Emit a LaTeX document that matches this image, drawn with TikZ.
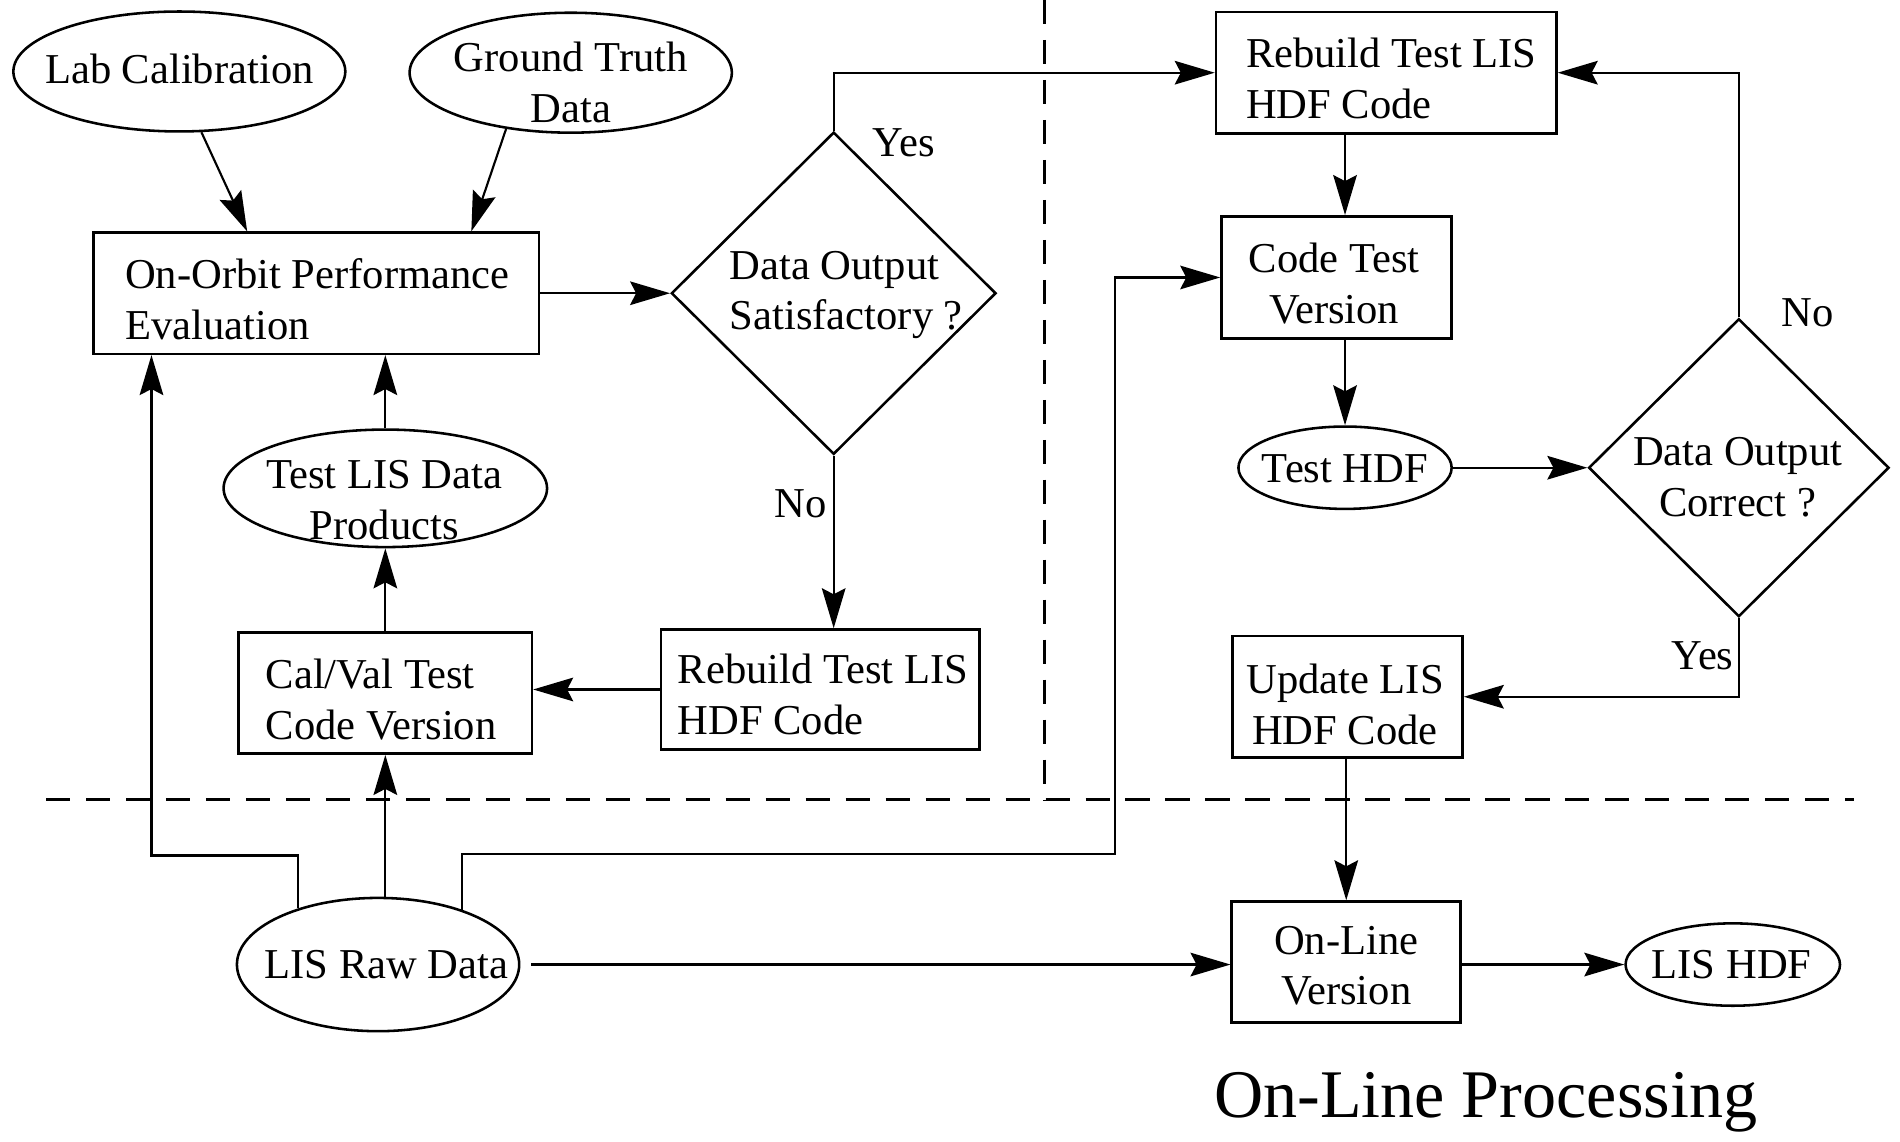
\documentclass[tikz,border=0pt]{standalone}
\usepackage{fontspec}
\setmainfont{Liberation Serif}
\usetikzlibrary{shapes.geometric,arrows.meta,calc}
\begin{document}
\begin{tikzpicture}[x=0.02cm,y=-0.02cm,
  every node/.style={font=\fontsize{20}{23.9}\selectfont, inner sep=0pt},
  box/.style={draw, line width=1.2pt, rectangle},
  ell/.style={draw, line width=1.2pt, ellipse},
  dia/.style={draw, line width=1.2pt, diamond},
  lbl/.style={align=center},
  ltxt/.style={align=left, anchor=west},
  conn/.style={line width=1pt, -{Stealth[length=0.66cm,width=0.39cm,inset=0.1cm]}},
  divider/.style={line width=1.3pt, dash pattern=on 0.4cm off 0.26cm}
]
\useasboundingbox (0,0) rectangle (1568,942);

% shapes
\node[ell, minimum width=5.48cm, minimum height=1.98cm] (lab) at (148,59) {};
\node[ell, minimum width=5.32cm, minimum height=1.98cm] (gt) at (471,60) {};
\node[box, minimum width=7.36cm, minimum height=2cm] (oo) at (261,242) {};
\node[dia, minimum width=5.36cm, minimum height=5.32cm] (d1) at (688,242) {};
\node[box, minimum width=5.62cm, minimum height=2cm] (rb1) at (1144,60) {};
\node[box, minimum width=3.8cm, minimum height=2.02cm] (ct) at (1103,229) {};
\node[ell, minimum width=3.52cm, minimum height=1.36cm] (th) at (1110,386) {};
\node[dia, minimum width=4.96cm, minimum height=4.92cm] (d2) at (1435,386) {};
\node[box, minimum width=3.8cm, minimum height=2cm] (upd) at (1112,575) {};
\node[box, minimum width=3.78cm, minimum height=2cm] (ol) at (1111,794) {};
\node[ell, minimum width=3.54cm, minimum height=1.36cm] (lh) at (1430,796) {};
\node[ell, minimum width=4.66cm, minimum height=2.2cm] (raw) at (312,796) {};
\node[ell, minimum width=5.34cm, minimum height=1.94cm] (tlp) at (318,403) {};
\node[box, minimum width=4.84cm, minimum height=2cm] (cv) at (318,572) {};
\node[box, minimum width=5.26cm, minimum height=1.98cm] (rb2) at (677,569) {};

% texts
\node[lbl] (labT) at (148,57) {Lab Calibration};
\node[lbl] (gtT) at (471,68) {Ground Truth\\Data};
\node[ltxt] (ooT) at (103,247) {On-Orbit Performance\\Evaluation};
\node[ltxt] (d1T) at (602,243.5) {Data Output\\Satisfactory ?};
\node[ltxt] (rb1T) at (1028,65) {Rebuild Test LIS\\HDF Code};
\node[lbl] (ctT) at (1101,234) {Code Test\\Version};
\node[lbl] (thT) at (1110,387) {Test HDF};
\node[lbl] (d2T) at (1434,394) {Data Output\\Correct ?};
\node[lbl] (updT) at (1110,581) {Update LIS\\HDF Code};
\node[lbl] (olT) at (1111,797) {On-Line\\Version};
\node[lbl] (lhT) at (1429,796) {LIS HDF};
\node[lbl] (rawT) at (319,796) {LIS Raw Data};
\node[lbl] (tlpT) at (317,413) {Test LIS Data\\Products};
\node[ltxt] (cvT) at (219,577) {Cal/Val Test\\Code Version};
\node[ltxt] (rb2T) at (559,573) {Rebuild Test LIS\\HDF Code};

% labels
\node (yes1) at (746,118) {Yes};
\node (no1) at (661,416) {No};
\node (no2) at (1492,258) {No};
\node (yes2) at (1405,541) {Yes};
\node[font=\fontsize{32}{38}\selectfont] (title) at (1226,910) {On-Line Processing};

% helper coordinates
\coordinate (jL) at (125,706);
\coordinate (jR) at (920,705);
\coordinate (vTop) at (862,0);
\coordinate (vBot) at (862,660);
\coordinate (hL) at (38,660);
\coordinate (hR) at (1530,660);

% dividers
\draw[divider] (vTop) -- (vBot);
\draw[divider] (hL) -- (hR);

% connectors
\draw[conn] (lab.-70) -- ($(oo.north west)+(128,0)$);
\draw[conn] (gt.-139) -- ($(oo.north west)+(313,0)$);
\draw[conn] (oo.east) -- (d1.west);
\draw[conn] (d1.north) |- (rb1.west);
\draw[conn] (d1.south) -- (d1.south |- rb2.north);
\draw[conn] (rb2.west) -- (rb2.west -| cv.east);
\draw[conn] (cv.north) -- (tlp.south);
\draw[conn] (tlp.north) -- (tlp.north |- oo.south);
\draw[conn] (raw.north -| cv.south) -- (cv.south);
\draw[conn] (raw.145) |- (jL) -- (jL |- oo.south);
\draw[conn] (raw.33) |- (jR) |- (ct.west);
\draw[conn, shorten <=0.18cm] (raw.east) -- (raw.east -| ol.west);
\draw[conn] (ol.east |- lh.west) -- (lh.west);
\draw[conn] (ol.north |- upd.south) -- (ol.north);
\draw[conn] (d2.south) |- (upd.east);
\draw[conn] (d2.north) |- (rb1.east);
\draw[conn] (rb1.south -| th.north) -- (th.north |- ct.north);
\draw[conn] (th.north |- ct.south) -- (th.north);
\draw[conn] (th.east) -- (d2.west);
\end{tikzpicture}
\end{document}
